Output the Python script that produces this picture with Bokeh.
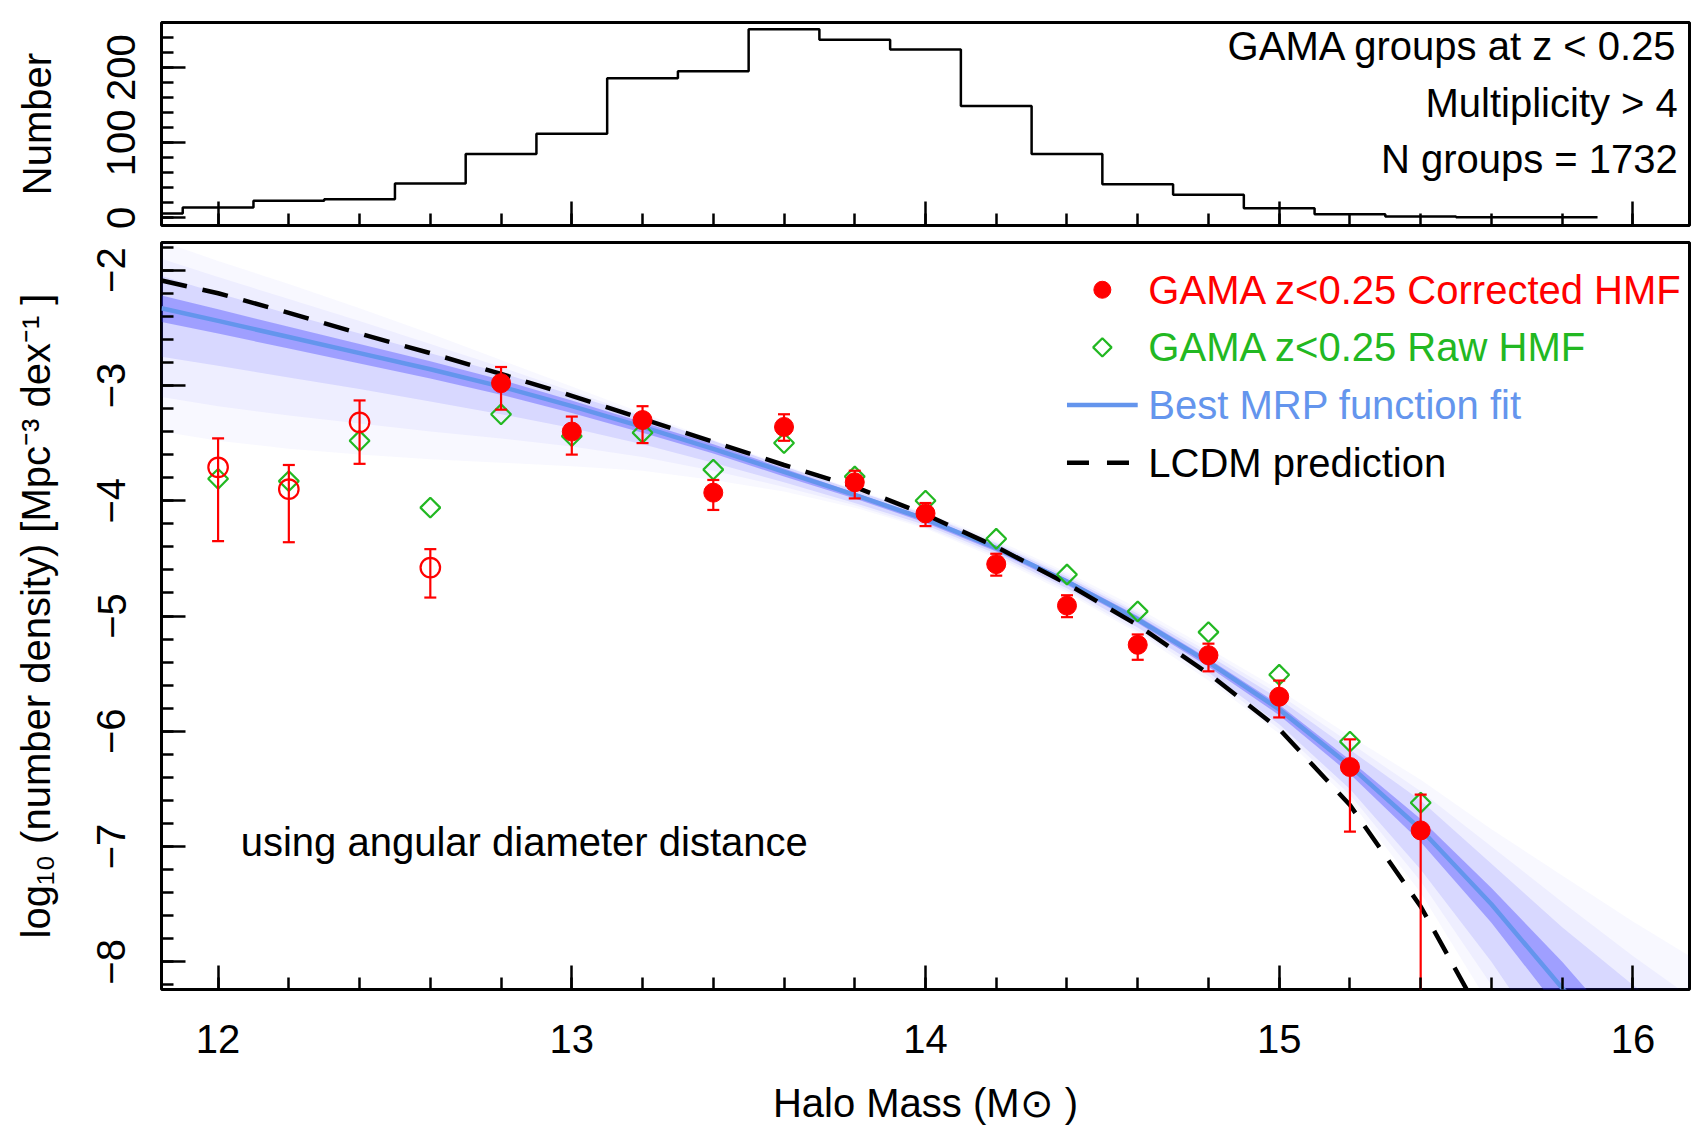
import numpy as np
from bokeh.plotting import figure
from bokeh.layouts import column
from bokeh.models import Range1d, FixedTicker, Label
from bokeh.embed import file_html
from bokeh.resources import INLINE

FONT = "Liberation Sans"
GREEN = "#22B822"
BLUE_FIT = "cornflowerblue"

# ---------------- data: histogram (top panel) ----------------
hist_mass = [11.8, 12.0, 12.2, 12.4, 12.6, 12.8, 13.0, 13.2, 13.4, 13.6, 13.8,
             14.0, 14.2, 14.4, 14.6, 14.8, 15.0, 15.2, 15.4, 15.6, 15.8]
hist_count = [6, 14, 23, 25, 46, 85, 112, 186, 195, 251, 237,
              224, 149, 85, 45, 31, 13, 5, 2, 1, 1]
bin_width = 0.2

# ---------------- data: HMF points (main panel) ----------------
mass = [12.0, 12.2, 12.4, 12.6, 12.8, 13.0, 13.2, 13.4, 13.6,
        13.8, 14.0, 14.2, 14.4, 14.6, 14.8, 15.0, 15.2, 15.4]
corrected = [-3.71, -3.90, -3.32, -4.58, -2.98, -3.40, -3.30, -3.93, -3.36,
             -3.84, -4.11, -4.55, -4.91, -5.25, -5.34, -5.70, -6.31, -6.86]
corrected_hi = [-3.46, -3.69, -3.13, -4.42, -2.84, -3.27, -3.18, -3.82, -3.25,
                -3.74, -4.02, -4.46, -4.82, -5.16, -5.24, -5.56, -6.07, -6.55]
corrected_lo = [-4.35, -4.36, -3.68, -4.84, -3.21, -3.60, -3.50, -4.08, -3.48,
                -3.98, -4.22, -4.65, -5.01, -5.38, -5.48, -5.88, -6.87, -12.0]
in_fit = [False, False, False, False, True, True, True, True, True,
          True, True, True, True, True, True, True, True, True]
raw = [-3.81, -3.83, -3.48, -4.06, -3.25, -3.44, -3.41, -3.73, -3.50,
       -3.79, -4.00, -4.33, -4.64, -4.96, -5.14, -5.51, -6.09, -6.62]

# ---------------- data: curves ----------------
fit_mass = [11.84, 12.0, 12.2, 12.4, 12.6, 12.8, 13.0, 13.2, 13.4, 13.6, 13.8,
            14.0, 14.2, 14.4, 14.6, 14.8, 15.0, 15.2, 15.4, 15.6, 15.82]
mrp_fit = [-2.33, -2.44, -2.58, -2.72, -2.86, -3.01, -3.18, -3.36, -3.55, -3.75, -3.95,
           -4.16, -4.41, -4.70, -5.03, -5.40, -5.81, -6.30, -6.85, -7.50, -8.30]

lcdm_mass = [11.84, 12.0, 12.2, 12.4, 12.6, 12.8, 13.0, 13.2, 13.4, 13.6, 13.8,
             14.0, 14.2, 14.4, 14.6, 14.8, 15.0, 15.2, 15.4, 15.55]
lcdm = [-2.09, -2.20, -2.37, -2.55, -2.72, -2.90, -3.09, -3.29, -3.49, -3.69, -3.88,
        -4.12, -4.40, -4.72, -5.08, -5.50, -5.98, -6.64, -7.52, -8.35]

# MCMC sample envelope (faint blue lines)
band_mass = [11.84, 12.0, 12.2, 12.4, 12.6, 12.8, 13.0, 13.2, 13.4, 13.6, 13.8, 14.0,
             14.2, 14.4, 14.6, 14.8, 15.0, 15.2, 15.4, 15.6, 15.8, 16.0, 16.16]
band_outer_hi = [-1.75, -1.92, -2.12, -2.33, -2.55, -2.78, -3.01, -3.24, -3.47, -3.69, -3.90, -4.10,
                 -4.34, -4.62, -4.93, -5.28, -5.64, -6.04, -6.42, -6.85, -7.25, -7.65, -7.95]
band_outer_lo = [-3.40, -3.48, -3.55, -3.60, -3.64, -3.67, -3.70, -3.74, -3.82, -3.92, -4.06, -4.24,
                 -4.50, -4.80, -5.15, -5.56, -6.02, -6.60, -7.40, -8.40, -9.50, -10.0, -10.0]
band_wide_hi = [-1.90, -2.06, -2.25, -2.44, -2.64, -2.84, -3.05, -3.26, -3.48, -3.70, -3.91, -4.11,
                -4.36, -4.64, -4.96, -5.31, -5.68, -6.10, -6.52, -7.00, -7.48, -7.95, -8.30]
band_wide_lo = [-3.10, -3.18, -3.26, -3.33, -3.40, -3.46, -3.53, -3.62, -3.74, -3.88, -4.04, -4.23,
                -4.48, -4.78, -5.13, -5.52, -5.98, -6.55, -7.30, -8.20, -9.20, -10.0, -10.0]
band_mid_hi = [-2.05, -2.20, -2.38, -2.55, -2.72, -2.89, -3.08, -3.27, -3.48, -3.70, -3.91, -4.12,
               -4.37, -4.66, -4.98, -5.34, -5.72, -6.16, -6.60, -7.15, -7.70, -8.20, -8.55]
band_mid_lo = [-2.75, -2.83, -2.93, -3.03, -3.14, -3.25, -3.37, -3.51, -3.67, -3.84, -4.02, -4.21,
               -4.46, -4.76, -5.10, -5.49, -5.94, -6.50, -7.20, -8.00, -8.90, -9.80, -10.0]
band_core_hi = [-2.22, -2.34, -2.49, -2.64, -2.79, -2.95, -3.13, -3.32, -3.51, -3.72, -3.93, -4.14,
                -4.39, -4.68, -5.00, -5.37, -5.77, -6.25, -6.76, -7.36, -8.00, -8.70, -9.20]
band_core_lo = [-2.45, -2.55, -2.68, -2.81, -2.94, -3.08, -3.24, -3.41, -3.59, -3.79, -3.98, -4.19,
                -4.44, -4.73, -5.06, -5.44, -5.86, -6.37, -6.96, -7.66, -8.45, -9.30, -10.0]

# ---------------- text ----------------
hist_notes = ["GAMA groups at z < 0.25", "Multiplicity > 4", "N groups = 1732"]
legend_labels = ["GAMA z<0.25 Corrected HMF", "GAMA z<0.25 Raw HMF",
                 "Best MRP function fit", "LCDM prediction"]
y_ticks_main = [-8, -7, -6, -5, -4, -3, -2]
y_ticks_hist = [0, 100, 200]
x_ticks = [12, 13, 14, 15, 16]

XR = (11.84, 16.16)
W = 1692


def style(p):
    p.xgrid.visible = False
    p.ygrid.visible = False
    p.outline_line_color = "black"
    p.outline_line_width = 3
    p.outline_line_alpha = 1.0
    p.background_fill_color = "white"
    p.border_fill_color = "white"
    for ax in (p.xaxis[0], p.yaxis[0]):
        ax.axis_line_color = None
        ax.major_tick_line_color = "black"
        ax.minor_tick_line_color = "black"
        ax.major_tick_line_width = 2.5
        ax.minor_tick_line_width = 2.5
        ax.major_tick_out = 0
        ax.minor_tick_out = 0
        ax.major_tick_in = 24
        ax.minor_tick_in = 12
        ax.major_label_text_font = FONT
        ax.major_label_text_font_size = "40px"
        ax.major_label_text_color = "black"
        ax.axis_label_text_font = FONT
        ax.axis_label_text_font_size = "40px"
        ax.axis_label_text_font_style = "normal"
        ax.axis_label_text_color = "black"


x_minor = np.round(np.arange(11.8, 16.21, 0.2), 1).tolist()

# ================= top panel =================
ph = figure(width=W, height=233, x_range=Range1d(*XR), y_range=Range1d(-10, 260),
            output_backend="svg", toolbar_location=None,
            min_border_left=161, min_border_right=3, min_border_top=22, min_border_bottom=8)
style(ph)
ph.xaxis.ticker = FixedTicker(ticks=x_ticks, minor_ticks=x_minor)
ph.xaxis.major_label_text_font_size = "1px"
ph.xaxis.major_label_text_alpha = 0
ph.xaxis.major_label_standoff = 0
ph.yaxis.ticker = FixedTicker(ticks=y_ticks_hist, minor_ticks=list(range(0, 261, 20)))
ph.yaxis.major_label_orientation = "vertical"
ph.yaxis.major_label_standoff = 26
ph.yaxis.axis_label = "Number"
ph.yaxis.axis_label_standoff = 46

edges = [m - bin_width / 2 for m in hist_mass] + [hist_mass[-1] + bin_width / 2]
counts_ext = hist_count + [hist_count[-1]]
ph.step(edges, counts_ext, mode="after", line_color="black", line_width=2.5)

for txt, yv in zip(hist_notes, [228.5, 153.3, 78.1]):
    ph.add_layout(Label(x=16.127, y=yv, text=txt, text_align="right", text_baseline="middle",
                        text_font=FONT, text_font_size="40px", text_color="black"))

# ================= main panel =================
pm = figure(width=W, height=896, x_range=Range1d(*XR), y_range=Range1d(-8.24, -1.76),
            output_backend="svg", toolbar_location=None,
            min_border_left=161, min_border_right=3, min_border_top=9, min_border_bottom=140)
style(pm)
pm.xaxis.ticker = FixedTicker(ticks=x_ticks, minor_ticks=x_minor)
pm.xaxis.major_label_standoff = 35
pm.xaxis.axis_label = "Halo Mass (M\u2299 )"
pm.xaxis.axis_label_standoff = 25
pm.yaxis.ticker = FixedTicker(ticks=y_ticks_main,
                              minor_ticks=np.round(np.arange(-8.2, -1.79, 0.2), 1).tolist())
pm.yaxis.major_label_orientation = "vertical"
pm.yaxis.major_label_overrides = {t: "\u2212" + str(abs(t)) for t in y_ticks_main}
pm.yaxis.major_label_standoff = 36
pm.yaxis.axis_label = "log\u2081\u2080 (number density) [Mpc\u207b\u00b3 dex\u207b\u00b9 ]"
pm.yaxis.axis_label_standoff = 37

# sample band (layered envelopes of the faint sample curves)
BAND = "#3636ff"
pm.varea(x=band_mass, y1=band_outer_lo, y2=band_outer_hi, fill_color=BAND, fill_alpha=0.035)
pm.varea(x=band_mass, y1=band_wide_lo, y2=band_wide_hi, fill_color=BAND, fill_alpha=0.05)
pm.varea(x=band_mass, y1=band_mid_lo, y2=band_mid_hi, fill_color=BAND, fill_alpha=0.12)
pm.varea(x=band_mass, y1=band_core_lo, y2=band_core_hi, fill_color=BAND, fill_alpha=0.35)

pm.line(fit_mass, mrp_fit, line_color=BLUE_FIT, line_width=4.5)
pm.line(lcdm_mass, lcdm, line_color="black", line_width=4.5, line_dash="26 16")

# raw points
pm.scatter(mass, raw, marker="square", angle=np.pi / 4, size=14,
           fill_color=None, line_color=GREEN, line_width=2.2)

# corrected points with error bars
pm.segment(x0=mass, y0=corrected_lo, x1=mass, y1=corrected_hi, line_color="red", line_width=2.2)
pm.scatter(mass, corrected_hi, marker="dash", size=12, line_color="red", line_width=2.2)
pm.scatter(mass, corrected_lo, marker="dash", size=12, line_color="red", line_width=2.2)
mf = [m for m, f in zip(mass, in_fit) if f]
cf = [c for c, f in zip(corrected, in_fit) if f]
mo = [m for m, f in zip(mass, in_fit) if not f]
co = [c for c, f in zip(corrected, in_fit) if not f]
pm.scatter(mf, cf, marker="circle", size=19, fill_color="red", line_color="red", line_width=1)
pm.scatter(mo, co, marker="circle", size=19.5, fill_color=None, line_color="red", line_width=2.2)

# legend (manual, coloured text)
leg_rows = [-2.17, -2.67, -3.17, -3.67]
leg_colors = ["red", GREEN, BLUE_FIT, "black"]
pm.scatter([14.50], [leg_rows[0]], marker="circle", size=17, fill_color="red", line_color="red")
pm.scatter([14.50], [leg_rows[1]], marker="square", angle=np.pi / 4, size=13,
           fill_color=None, line_color=GREEN, line_width=2.2)
pm.line([14.40, 14.60], [leg_rows[2], leg_rows[2]], line_color=BLUE_FIT, line_width=4.5)
pm.line([14.40, 14.60], [leg_rows[3], leg_rows[3]], line_color="black", line_width=4.5,
        line_dash="22 18")
for txt, yv, c in zip(legend_labels, leg_rows, leg_colors):
    pm.add_layout(Label(x=14.63, y=yv, text=txt, text_align="left", text_baseline="middle",
                        text_font=FONT, text_font_size="40px", text_color=c))

pm.add_layout(Label(x=12.064, y=-6.958, text="using angular diameter distance",
                    text_align="left", text_baseline="middle",
                    text_font=FONT, text_font_size="40px", text_color="black"))

layout = column(ph, pm, spacing=0)
open("out.html", "w").write(file_html(layout, INLINE))
